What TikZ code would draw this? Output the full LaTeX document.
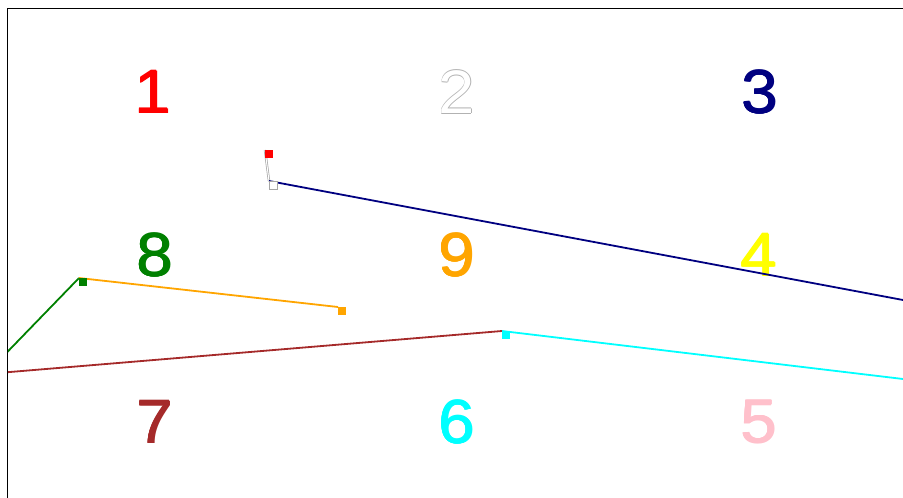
\documentclass[tikz,border=0pt]{standalone}
\usepackage{fontspec}
\setmainfont{Liberation Sans}
\definecolor{cbrown}{RGB}{165,42,42}
\definecolor{cgreen}{RGB}{0,128,0}
\definecolor{corange}{RGB}{255,165,0}
\definecolor{cpink}{RGB}{255,192,203}
\definecolor{cnavy}{RGB}{0,0,128}
\definecolor{ccyan}{RGB}{0,255,255}
\definecolor{cyellow}{RGB}{255,255,0}
\definecolor{cred}{RGB}{255,0,0}
\newcommand{\outlinedigit}[1]{%
  \rlap{\kern-0.6pt\color{black!30}#1}%
  \rlap{\kern0.6pt\color{black!30}#1}%
  \rlap{\raisebox{0.6pt}{\color{black!30}#1}}%
  \rlap{\raisebox{-0.6pt}{\color{black!30}#1}}%
  \color{white}#1}
\newcommand{\heavydigit}[1]{%
  \rlap{\kern-0.5pt#1}%
  \rlap{\kern0.5pt#1}%
  \rlap{\raisebox{0.5pt}{#1}}%
  \rlap{\raisebox{-0.5pt}{#1}}%
  #1}
\tikzset{
  digit/.style={inner sep=0pt, anchor=center, font=\fontsize{61.5}{62}\selectfont, xscale=1.06},
  seg/.style={line width=1.8pt},
  marker/.style={minimum size=8pt, inner sep=0pt, anchor=north west, draw=none, outer sep=0pt},
  frame/.style={line width=1.2pt, black}
}
\begin{document}
\begin{tikzpicture}[x=1pt,y=-1pt]
\useasboundingbox (0,0) rectangle (903,498);
% frame
\coordinate (ftl) at (7.3,8.3);
\coordinate (ftr) at (903,8.3);
\coordinate (fbl) at (7.3,498);
\draw[frame] (ftr) -- (ftl) -- (fbl);
% digits
\node[digit, text=cred] (n1) at (153,92) {\heavydigit{1}};
\node[digit] (n2) at (457,92) {\outlinedigit{2}};
\node[digit, text=cnavy] (n3) at (760,92) {\heavydigit{3}};
\node[digit, text=cgreen] (n8) at (155,255) {\heavydigit{8}};
\node[digit, text=corange] (n9) at (457,255) {\heavydigit{9}};
\node[digit, text=cyellow] (n4) at (759,255) {\heavydigit{4}};
\node[digit, text=cbrown] (n7) at (155,422) {\heavydigit{7}};
\node[digit, text=ccyan] (n6) at (457,422) {\heavydigit{6}};
\node[digit, text=cpink] (n5) at (759,422) {\heavydigit{5}};
% points
\coordinate (p1) at (265,150);
\coordinate (p2) at (269,181);
\coordinate (p3) at (1000,318.2);
\coordinate (p5) at (1000,390.6);
\coordinate (p6) at (502,331);
\coordinate (p7) at (-14,374);
\coordinate (p8) at (79,278);
\coordinate (p9) at (338,307);
\begin{scope}
\clip (7.9,8.9) rectangle (903,498);
\draw[seg, line width=2.4pt, black!35] (p1) -- (p2);
\draw[seg, line width=1.0pt, white] (p1) -- (p2);
\draw[seg, cnavy] (p2) -- (p3);
\draw[seg, ccyan] (p5) -- (p6);
\draw[seg, cbrown] (p6) -- (p7);
\draw[seg, cgreen] (p7) -- (p8);
\draw[seg, corange] (p8) -- (p9);
\end{scope}
% markers
\node[marker, fill=cred] (m1) at (p1) {};
\node[marker, fill=white, draw=black!35, line width=0.6pt] (m2) at (p2) {};
\node[marker, fill=ccyan] (m6) at (p6) {};
\node[marker, fill=cgreen] (m8) at (p8) {};
\node[marker, fill=corange] (m9) at (p9) {};
\end{tikzpicture}
\end{document}
